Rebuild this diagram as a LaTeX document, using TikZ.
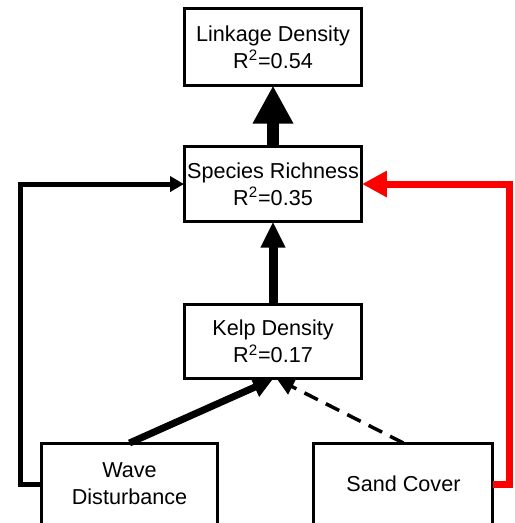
\documentclass[tikz,border=0pt]{standalone}
\usepackage{fontspec}
\setmainfont{Liberation Sans}
\usetikzlibrary{arrows.meta}

\begin{document}
\begin{tikzpicture}[x=0.02cm, y=-0.02cm, line join=miter,
                    main node/.style={draw, line width=0.06cm, inner sep=0pt, outer sep=0pt,
                                      minimum width=3.56cm, minimum height=1.5cm, align=center,
                                      font=\fontsize{12.3}{15.4}\selectfont}]

  \useasboundingbox (0,0) rectangle (514,523);
  \clip (0,0) rectangle (514,523);

  \node[main node] (kelp) at (273,341.5) {Kelp Density\\R\textsuperscript{2}=0.17};
  \node[main node, node distance=3.15cm] (spr) [above of=kelp] {Species Richness\\R\textsuperscript{2}=0.35};
  \node[main node, node distance=2.74cm, minimum height=1.54cm] (lnk) [above of=spr] {Linkage Density\\R\textsuperscript{2}=0.54};
  \node[main node, minimum width=3.52cm, minimum height=1.64cm] (wave) at (129.5,484) {Wave\\Disturbance};
  \node[main node, minimum width=3.58cm, minimum height=1.64cm, node distance=5.48cm] (sand) [right of=wave] {Sand Cover};

  \draw[line width=0.24cm, -{Triangle[width=0.76cm,length=0.76cm]}] (spr) -- (lnk);
  \draw[line width=0.18cm, -{Triangle[width=0.46cm,length=0.52cm]}] (kelp) -- (spr);
  \draw[line width=0.14cm, -{Triangle[width=0.4cm,length=0.4cm]}] (wave.north) -- (kelp.south);
  \draw[line width=0.07cm, dash pattern=on 0.3cm off 0.18cm, -{Triangle[width=0.34cm,length=0.34cm]}]
    (sand.north) -- ([xshift=0.08cm]kelp.south);
  \draw[line width=0.1cm, -{Triangle[width=0.3cm,length=0.28cm]}] (wave.west) -- ++(-21,0) |- (spr.west);
  \draw[red, line width=0.14cm, -{Triangle[width=0.5cm,length=0.5cm]}] (sand.east) -- ++(17,0) |- (spr.east);
\end{tikzpicture}
\end{document}
